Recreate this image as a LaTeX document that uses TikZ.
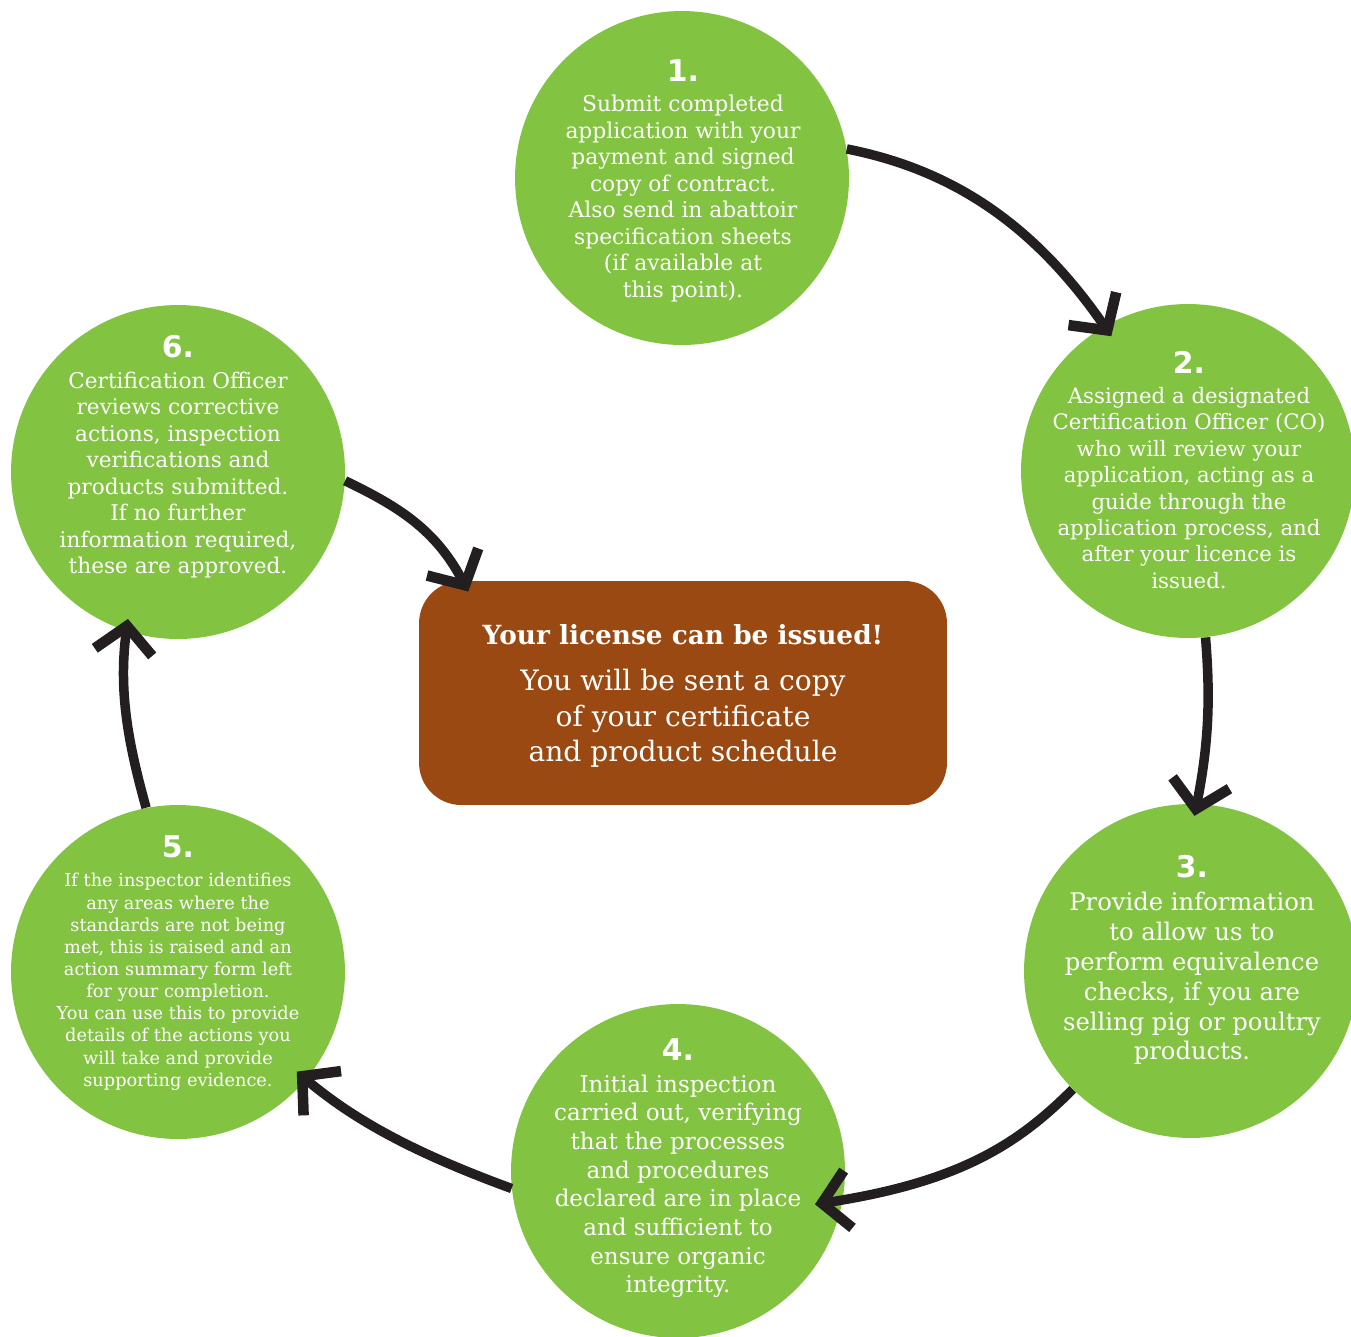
\documentclass[tikz,border=0pt]{standalone}
\usepackage{fontspec}
\setmainfont{DejaVu Serif}
\newfontfamily\numfont{DejaVu Sans}
\usepackage{tikz}
\usetikzlibrary{arrows.meta,positioning}
\definecolor{LeafGreen}{HTML}{82C341}
\definecolor{Rust}{HTML}{9A4912}
\definecolor{Ink}{HTML}{231F20}
\newcommand{\stepno}[1]{{\numfont\bfseries\fontsize{17}{15}\selectfont #1}}

\begin{document}
\begin{tikzpicture}[x=0.02cm,y=-0.02cm,
    stepcircle/.style={circle,fill=LeafGreen,minimum size=6.68cm,inner sep=0pt},
    steptext/.style={align=center,text=white},
    finalbox/.style={rectangle,fill=Rust,rounded corners=24pt,minimum width=10.56cm,minimum height=4.48cm},
    cyclearrow/.style={line width=5.4pt,draw=Ink,-{Straight Barb[length=15pt,width=33pt,line width=6pt]},shorten >=-7pt}
]
\useasboundingbox (0,0) rectangle (1351,1336);
\foreach \i/\x/\y in {1/682/178,2/1188/471,3/1191/971,4/678/1171,5/178/972,6/178/472}{
    \node[stepcircle] (s\i) at (\x,\y) {};
}
\node[finalbox] (box) at (683,693) {};

\node[steptext,font=\fontsize{12.4}{15.1}\selectfont] (t1) at (683,181) {\stepno{1.}\\[2pt]Submit completed\\application with your\\payment and signed\\copy of contract.\\Also send in abattoir\\specification sheets\\(if available at\\this point).};
\node[steptext,font=\fontsize{12.1}{15}\selectfont] (t2) at (1189,470) {\stepno{2.}\\[2pt]Assigned a designated\\Certification Officer (CO)\\who will review your\\application, acting as a\\guide through the\\application process, and\\after your licence is\\issued.};
\node[steptext,font=\fontsize{13.8}{17}\selectfont] (t3) at (1192,960) {\stepno{3.}\\[2pt]Provide information\\to allow us to\\perform equivalence\\checks, if you are\\selling pig or poultry\\products.};
\node[steptext,font=\fontsize{13.1}{16.3}\selectfont] (t4) at (678,1168) {\stepno{4.}\\[2pt]Initial inspection\\carried out, verifying\\that the processes\\and procedures\\declared are in place\\and sufficient to\\ensure organic\\integrity.};
\node[steptext,font=\fontsize{10.1}{12.6}\selectfont] (t5) at (178,963) {\stepno{5.}\\[4pt]If the inspector identifies\\any areas where the\\standards are not being\\met, this is raised and an\\action summary form left\\for your completion.\\You can use this to provide\\details of the actions you\\will take and provide\\supporting evidence.};
\node[steptext,font=\fontsize{12.3}{15.1}\selectfont] (t6) at (178,457) {\stepno{6.}\\[2pt]Certification Officer\\reviews corrective\\actions, inspection\\verifications and\\products submitted.\\If no further\\information required,\\these are approved.};
\node[steptext,font=\fontsize{16}{20.2}\selectfont] (boxtext) at (683,696) {{\bfseries\fontsize{15}{17}\selectfont Your license can be issued!}\\[6pt]You will be sent a copy\\of your certificate\\and product schedule};

\draw[cyclearrow] (s1.10) .. controls +(101,20) and +(-73,-106) .. (s2.120);
\draw[cyclearrow] (s2.-84) .. controls +(5,60) and +(12,-60) .. (s3.88);
\draw[cyclearrow,shorten >=-16pt] (s3.-135) .. controls +(-54,54) and +(118,-18) .. (s4.-10);
\draw[cyclearrow] (s4.186) .. controls +(-90,-33) and +(52,44) .. (s5.-40);
\draw[cyclearrow] (s5.101) .. controls +(-18,-65) and +(-8,60) .. (s6.-108);
\draw[cyclearrow] (s6.-3) .. controls +(54,26) and +(-27,-51) .. (box.153);
\end{tikzpicture}
\end{document}
